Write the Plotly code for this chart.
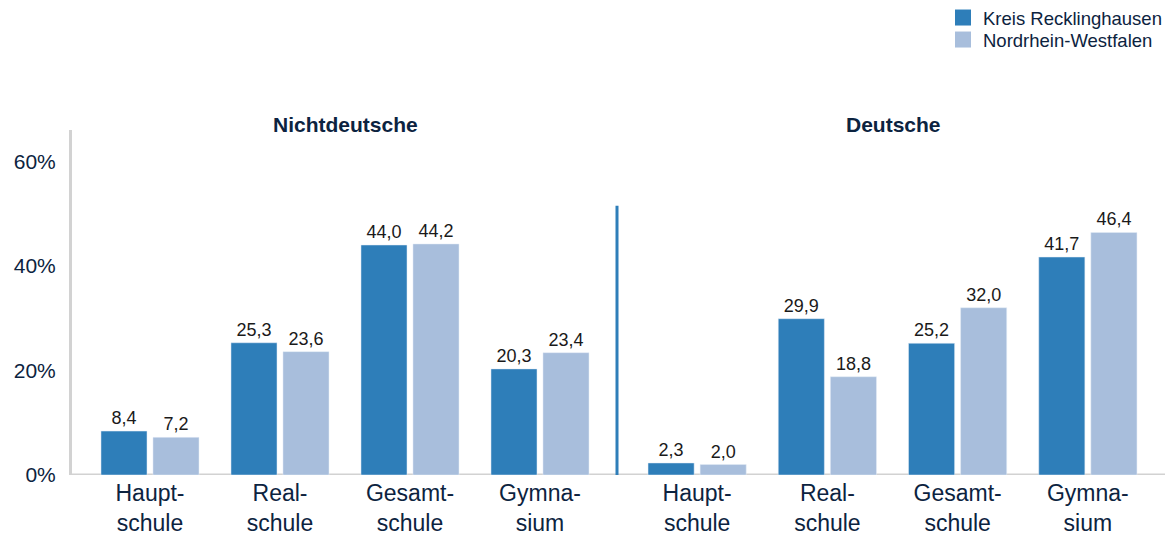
import plotly.graph_objects as go
from plotly.subplots import make_subplots

categories = ["Haupt-<br>schule", "Real-<br>schule", "Gesamt-<br>schule", "Gymna-<br>sium"]
groups = ["Nichtdeutsche", "Deutsche"]
series_names = ["Kreis Recklinghausen", "Nordrhein-Westfalen"]
nichtdeutsche_kreis = [8.4, 25.3, 44.0, 20.3]
nichtdeutsche_nrw = [7.2, 23.6, 44.2, 23.4]
deutsche_kreis = [2.3, 29.9, 25.2, 41.7]
deutsche_nrw = [2.0, 18.8, 32.0, 46.4]
y_ticks = [0, 20, 40, 60]
y_tick_text = ["0%", "20%", "40%", "60%"]

DARK = "#2e7eb9"
LIGHT = "#a8bedc"
NAVY = "#0c2340"
GRAY = "#d2d2d2"
FONT = "Liberation Sans, Arial, sans-serif"

OFF = 8  # browser body margin
W, H = 1173 - OFF, 536 - OFF
L, R, T, B = 72 - OFF, 7, 130 - OFF, 61
pw = W - L - R
ph = H - T - B


def px_x(x):
    return (x - OFF - L) / pw


def px_y(y):
    return 1 + (T - (y - OFF)) / ph


fig = make_subplots(rows=1, cols=2, shared_yaxes=True, horizontal_spacing=0)

data = [(nichtdeutsche_kreis, nichtdeutsche_nrw), (deutsche_kreis, deutsche_nrw)]
colors = [DARK, LIGHT]
for col, vals in enumerate(data, start=1):
    for i, v in enumerate(vals):
        fig.add_trace(go.Bar(
            x=categories, y=v, name=series_names[i], marker_color=colors[i],
            texttemplate="%{y:.1f}", textposition="outside", cliponaxis=False,
            textfont=dict(size=18, color="#1a1a1a", family=FONT),
            showlegend=False, hoverinfo="skip"), row=1, col=col)

legend_names = ["legend", "legend2"]
for i, n in enumerate(series_names):
    fig.add_trace(go.Scatter(x=[None], y=[None], mode="markers", name=n,
                             legend=legend_names[i],
                             marker=dict(symbol="square", size=22, color=colors[i])),
                  row=1, col=1)

left_dom = [0, px_x(605)]
right_dom = [px_x(632), 1.0]

legend_style = dict(x=px_x(943), xanchor="left", yanchor="top",
                    font=dict(size=18.5, color=NAVY), bgcolor="rgba(0,0,0,0)")

fig.update_layout(
    width=W, height=H, margin=dict(l=L, r=R, t=T, b=B, autoexpand=False),
    paper_bgcolor="white", plot_bgcolor="white",
    separators=",.",
    barmode="group", bargap=0.2, bargroupgap=0.115,
    font=dict(family=FONT, color=NAVY),
    legend=dict(y=px_y(-1), **legend_style),
    legend2=dict(y=px_y(21), **legend_style),
    xaxis=dict(domain=left_dom, range=[-0.6, 3.5], showline=False, ticks="",
               tickfont=dict(size=23, color=NAVY), ticklabelstandoff=2),
    xaxis2=dict(domain=right_dom, range=[-0.5, 3.6], showline=False, ticks="",
                tickfont=dict(size=23, color=NAVY), ticklabelstandoff=2),
    yaxis=dict(range=[0, 66], tickmode="array", tickvals=y_ticks, ticktext=y_tick_text,
               showgrid=False, zeroline=False,
               showline=True, linecolor=GRAY, linewidth=3, ticks="",
               tickfont=dict(size=21, color=NAVY), ticklabelstandoff=9),
    yaxis2=dict(range=[0, 66], showgrid=False, zeroline=False, showticklabels=False),
)

fig.add_shape(type="line", xref="paper", yref="y", x0=0, x1=1, y0=0, y1=0,
              line=dict(color=GRAY, width=3), layer="below")
fig.add_shape(type="line", xref="paper", yref="y", x0=px_x(617), x1=px_x(617),
              y0=0, y1=51.5, line=dict(color=DARK, width=3))

for g, cx in zip(groups, [345, 893]):
    fig.add_annotation(text="<b>%s</b>" % g, xref="paper", yref="paper",
                       x=px_x(cx), y=px_y(124), xanchor="center", yanchor="middle",
                       showarrow=False, font=dict(size=21, color=NAVY, family=FONT))

fig.write_html("out.html")
